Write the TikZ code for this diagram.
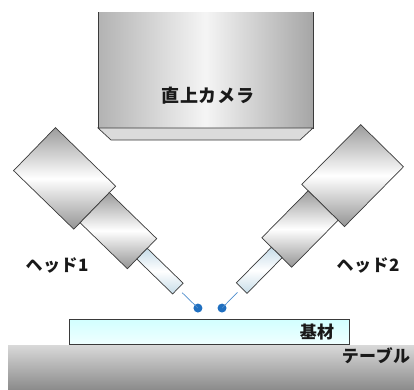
\documentclass[tikz,border=0pt]{standalone}
\usepackage{fontspec}
\newfontfamily\jpfont{Noto Sans CJK JP}[LetterSpace=3]
\usepackage{tikz}
\usetikzlibrary{calc}

\definecolor{steel}{HTML}{9C9C9C}
\definecolor{outline}{HTML}{3A3A3A}
\definecolor{dropblue}{HTML}{1F6FC0}
\definecolor{glass}{HTML}{C6DCE8}

\tikzset{
	edge/.style={draw=outline, line width=0.7pt},
	metal/.style={edge, top color=steel, bottom color=steel!95!black, middle color=white},
	tube/.style={edge, top color=glass, bottom color=glass, middle color=white},
	drop/.style={circle, fill=dropblue, inner sep=0pt, minimum size=9pt},
	jet/.style={draw=dropblue!80, line width=0.7pt},
	tag/.style={font=\jpfont\bfseries\fontsize{17}{17}\selectfont, text=black!90, inner sep=1pt}
}

\begin{document}
\begin{tikzpicture}[x=1pt, y=-1pt]
			\useasboundingbox (0,0) rectangle (414,389);
			
			\shade[top color=black!15, bottom color=black!45] (8,345) rectangle (414,389);
			\draw[edge, top color=cyan!18, bottom color=cyan!6] (69,319) rectangle (349,344);
			
			\shade[left color=black!30, right color=black!35, middle color=black!4] (98,12) rectangle (313,128);
			\draw[edge] (98,12) -- (98,128) -- (313,128) -- (313,12);
			\draw[edge, fill=black!14] (98,128) -- (111,140) -- (300,140) -- (313,128) -- cycle;
			
			\foreach \n/\x/\y/\a in {1/34.5/149.1/-44.2, 2/382.1/145.7/-134.6} {
				\begin{scope}[shift={(\x,\y)}, rotate=\a]
					\draw[metal] (0,-30) rectangle (84,30);
					\draw[metal] (84,-21) rectangle (150,21);
					\draw[tube] (150,-7.5) rectangle (200,7.5);
					\coordinate (tip\n) at (206,0);
					\node[drop] (drop\n) at (228,0) {};
					\draw[jet] (tip\n) -- (drop\n.center);
				\end{scope}
			}
			
			\node[tag, font=\jpfont\bfseries\fontsize{18}{18}\selectfont] (camera) at (208,96) {直上カメラ};
			\node[tag] (head1) at (57,265) {ヘッド1};
			\node[tag] (head2) at (368,265) {ヘッド2};
			\node[tag] (plate) at (317,332) {基材};
			\node[tag] (table) at (376,356) {テーブル};
\end{tikzpicture}
\end{document}
